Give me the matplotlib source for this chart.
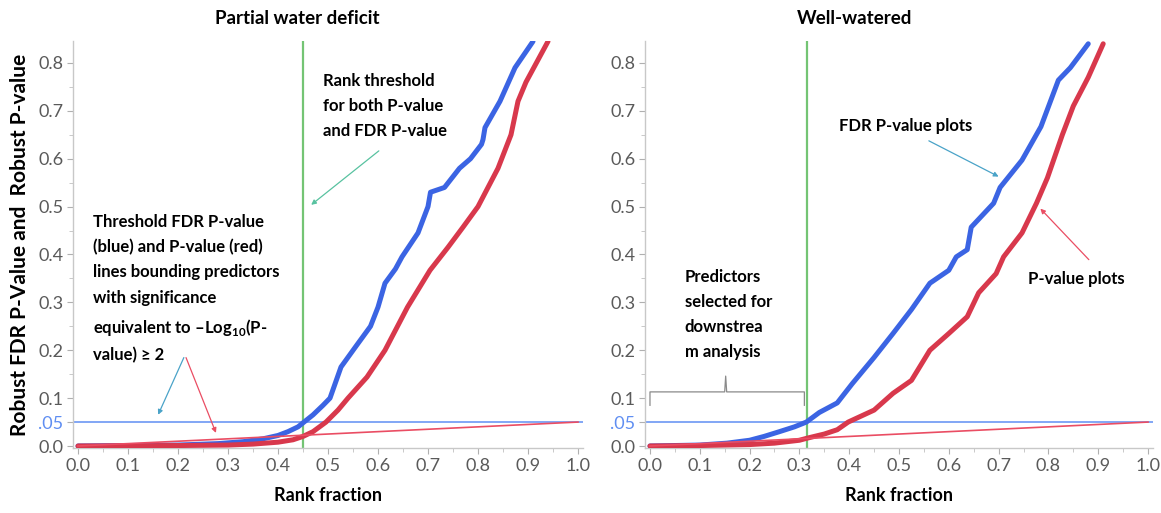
import matplotlib
matplotlib.use("Agg")
import matplotlib.pyplot as plt
from matplotlib.ticker import MultipleLocator

plt.rcParams["font.family"] = ["Lato", "DejaVu Sans"]
plt.rcParams["mathtext.fontset"] = "custom"
plt.rcParams["mathtext.rm"] = "Lato"
plt.rcParams["mathtext.bf"] = "Lato:bold"

# --- data ---
# Partial water deficit
pwd_fdr_rank = [0.0, 0.1, 0.2, 0.28, 0.33, 0.37, 0.40, 0.42, 0.44, 0.452, 0.47, 0.49,
                0.504, 0.526, 0.555, 0.585, 0.60, 0.614, 0.635, 0.648, 0.68, 0.70,
                0.705, 0.733, 0.763, 0.785, 0.807, 0.81, 0.814, 0.844, 0.874, 0.91]
pwd_fdr = [0.0, 0.001, 0.002, 0.005, 0.009, 0.015, 0.022, 0.03, 0.04, 0.05, 0.065, 0.085,
           0.10, 0.165, 0.207, 0.25, 0.29, 0.34, 0.37, 0.395, 0.445, 0.50,
           0.53, 0.54, 0.58, 0.60, 0.63, 0.64, 0.665, 0.72, 0.79, 0.845]
pwd_p_rank = [0.0, 0.1, 0.2, 0.3, 0.35, 0.40, 0.43, 0.45, 0.47, 0.496, 0.52, 0.54, 0.578,
              0.614, 0.659, 0.704, 0.74, 0.77, 0.80, 0.81, 0.84, 0.866, 0.88, 0.896, 0.94]
pwd_p = [0.0, 0.0005, 0.001, 0.002, 0.004, 0.008, 0.013, 0.02, 0.03, 0.05, 0.075, 0.10, 0.144,
         0.20, 0.29, 0.367, 0.415, 0.457, 0.50, 0.52, 0.58, 0.65, 0.72, 0.76, 0.845]
pwd_threshold_rank = 0.45

# Well-watered
ww_fdr_rank = [0.0, 0.1, 0.155, 0.2, 0.229, 0.26, 0.29, 0.314, 0.34, 0.376, 0.406, 0.45,
               0.488, 0.525, 0.562, 0.6, 0.615, 0.637, 0.645, 0.69, 0.703, 0.747, 0.785,
               0.82, 0.844, 0.88]
ww_fdr = [0.0, 0.002, 0.006, 0.012, 0.02, 0.03, 0.04, 0.05, 0.07, 0.09, 0.13, 0.185,
          0.235, 0.285, 0.34, 0.367, 0.395, 0.41, 0.457, 0.507, 0.54, 0.597, 0.667,
          0.764, 0.79, 0.84]
ww_p_rank = [0.0, 0.1, 0.2, 0.25, 0.3, 0.318, 0.35, 0.376, 0.398, 0.45, 0.488, 0.525, 0.562,
             0.6, 0.637, 0.66, 0.695, 0.71, 0.747, 0.776, 0.798, 0.828, 0.85, 0.88, 0.91]
ww_p = [0.0, 0.001, 0.003, 0.006, 0.012, 0.017, 0.025, 0.034, 0.05, 0.075, 0.11, 0.137, 0.2,
        0.235, 0.27, 0.32, 0.36, 0.395, 0.445, 0.507, 0.56, 0.65, 0.71, 0.77, 0.84]
ww_threshold_rank = 0.316

fdr_cut = 0.05
bh_line_rank = [0.0, 1.0]
bh_line_p = [0.0, 0.05]

ytick_vals = [0.0, 0.05, 0.1, 0.2, 0.3, 0.4, 0.5, 0.6, 0.7, 0.8]
ytick_labels = ["0.0", ".05", "0.1", "0.2", "0.3", "0.4", "0.5", "0.6", "0.7", "0.8"]

BLUE = "#3b64e3"
RED = "#d8384c"
TL_BLUE = "#5f8ef2"
TL_RED = "#ea4d63"
GREEN = "#74c474"
GRAY = "#5a5a5a"

W, H = 1161, 513
fig = plt.figure(figsize=(W / 100, H / 100), dpi=100)
ax_l = fig.add_axes([73 / W, (H - 448.4) / H, 510 / W, 407 / H])
ax_r = fig.add_axes([645 / W, (H - 448.4) / H, 508 / W, 407 / H])


def style_axes(ax):
    ax.set_xlim(-0.01, 1.01)
    ax.set_ylim(-0.005, 0.845)
    for s in ("top", "right"):
        ax.spines[s].set_visible(False)
    for s in ("left", "bottom"):
        ax.spines[s].set_color("#c8c8c8")
        ax.spines[s].set_linewidth(1.0)
    ax.set_xticks([i / 10 for i in range(11)])
    ax.set_xticklabels([f"{i / 10:.1f}" for i in range(11)])
    ax.xaxis.set_minor_locator(MultipleLocator(0.05))
    ax.set_yticks(ytick_vals)
    ax.set_yticklabels(ytick_labels)
    ax.set_yticks([0.15, 0.25, 0.35, 0.45, 0.55, 0.65, 0.75], minor=True)
    ax.tick_params(which="major", length=4, color="#b0b0b0", labelsize=13,
                   labelcolor=GRAY, pad=3)
    ax.tick_params(which="minor", length=3, color="#c0c0c0")
    ax.get_yticklabels()[1].set_color(TL_BLUE)
    ax.set_xlabel("Rank fraction", fontsize=13, fontweight="bold", labelpad=9)


def draw_panel(ax, fdr_rank, fdr, p_rank, p, thr):
    ax.axhline(fdr_cut, color=TL_BLUE, lw=1.1, zorder=2)
    ax.axvline(thr, color=GREEN, lw=1.6, zorder=1)
    ax.plot(fdr_rank, fdr, color=BLUE, lw=3.6, solid_capstyle="round",
            solid_joinstyle="round", zorder=3)
    ax.plot(p_rank, p, color=RED, lw=3.6, solid_capstyle="round",
            solid_joinstyle="round", zorder=4)
    ax.plot(bh_line_rank, bh_line_p, color=TL_RED, lw=1.2, zorder=5)
    style_axes(ax)


draw_panel(ax_l, pwd_fdr_rank, pwd_fdr, pwd_p_rank, pwd_p, pwd_threshold_rank)
draw_panel(ax_r, ww_fdr_rank, ww_fdr, ww_p_rank, ww_p, ww_threshold_rank)

ax_l.set_ylabel("Robust FDR P-Value and  Robust P-value", fontsize=15,
                fontweight="bold", labelpad=6)

fig.text(297 / W, 1 - 18 / H, "Partial water deficit", ha="center", va="center",
         fontsize=13.5, fontweight="bold")
fig.text(855 / W, 1 - 18 / H, "Well-watered", ha="center", va="center",
         fontsize=13.5, fontweight="bold")

# --- annotations, left panel ---
ann = dict(fontsize=12, fontweight="bold", ha="left", va="top", linespacing=1.7)
ax_l.text(0.49, 0.78, "Rank threshold\nfor both P-value\nand FDR P-value", **ann)
ax_l.annotate("", xy=(0.462, 0.50), xytext=(0.606, 0.62),
              arrowprops=dict(arrowstyle="-|>", color="#58c2a0", lw=0.9,
                              mutation_scale=7))
ax_l.text(0.03, 0.485, "Threshold FDR P-value\n(blue) and P-value (red)\n"
          "lines bounding predictors\nwith significance\n"
          r"equivalent to –Log$_{\mathbf{10}}$(P-" "\nvalue) ≥ 2", **ann)
ax_l.annotate("", xy=(0.158, 0.06), xytext=(0.214, 0.19),
              arrowprops=dict(arrowstyle="-|>", color="#4aa3c8", lw=0.9,
                              mutation_scale=7))
ax_l.annotate("", xy=(0.278, 0.022), xytext=(0.214, 0.19),
              arrowprops=dict(arrowstyle="-|>", color=TL_RED, lw=0.9,
                              mutation_scale=7))

# --- annotations, right panel ---
ax_r.text(0.38, 0.685, "FDR P-value plots", **ann)
ax_r.annotate("", xy=(0.705, 0.56), xytext=(0.555, 0.64),
              arrowprops=dict(arrowstyle="-|>", color="#4aa3c8", lw=0.9,
                              mutation_scale=7))
ax_r.text(0.76, 0.365, "P-value plots", **ann)
ax_r.annotate("", xy=(0.78, 0.50), xytext=(0.885, 0.385),
              arrowprops=dict(arrowstyle="-|>", color=TL_RED, lw=0.9,
                              mutation_scale=7))
ax_r.text(0.07, 0.37, "Predictors\nselected for\ndownstrea\nm analysis", **ann)
ax_r.plot([0.0, 0.0, 0.15, 0.152, 0.154, 0.31, 0.31],
          [0.085, 0.113, 0.113, 0.146, 0.113, 0.113, 0.085],
          color="#8a8a8a", lw=0.9, zorder=6)

fig.savefig("out.png", dpi=100)
